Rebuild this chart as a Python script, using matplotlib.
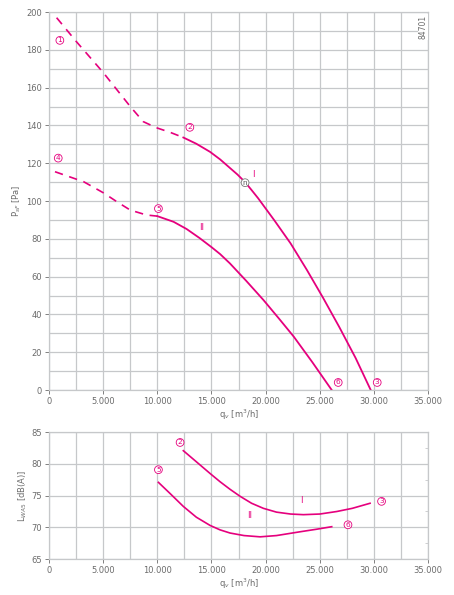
import matplotlib.pyplot as plt
import numpy as np

# data
# pressure curves, top chart: q_v [m3/h] -> p_sF [Pa]
q_I_dash = [700, 2500, 5000, 7500, 8700, 9900, 11200, 12400]
p_I_dash = [197, 184.5, 168, 150, 142, 138.8, 136.3, 133.6]
q_I = [12400, 13600, 14870, 15800, 16700, 17400, 18100, 18700, 19300, 20800, 22300,
       23800, 25300, 26800, 28300, 29700]
p_I = [133.6, 130.3, 126, 122, 117.5, 114, 110, 105.8, 101.5, 89.8, 77.6,
       63.6, 48.8, 33.3, 17, 0]

q_II_dash = [550, 3200, 5000, 6300, 7500, 9000, 10000]
p_II_dash = [115.5, 110.2, 104.4, 99.5, 95.2, 92.6, 92]
q_II = [10000, 11500, 12700, 13900, 15000, 15800, 16700, 18200, 19800, 21200, 22600,
        24300, 26100]
p_II = [92, 89, 85.2, 80.4, 75.6, 71.9, 67, 57.8, 47.6, 38, 28.2, 14.8, 0]

# sound power, bottom chart: q_v -> L_WA5 [dB(A)]
q_LI = [12400, 13500, 14870, 15790, 16715, 17640, 18700, 19790, 21000, 22300, 23480,
        25000, 26570, 28000, 29640]
L_I = [82.1, 80.5, 78.5, 77.2, 76.0, 74.9, 73.8, 73.0, 72.4, 72.1, 72.0,
       72.1, 72.5, 73.0, 73.8]
q_LII = [10100, 11200, 12400, 13600, 14870, 15790, 16715, 18000, 19490, 21000, 23180,
         24700, 26100]
L_II = [77.1, 75.3, 73.3, 71.6, 70.3, 69.6, 69.1, 68.7, 68.5, 68.7, 69.3, 69.7, 70.1]

# circled point labels
top_marks = {'1': (1000, 185), '2': (13000, 139), '3': (30300, 4),
             '4': (850, 122.7), '5': (10100, 96), '6': (26700, 4)}
bot_marks = {'2': (12100, 83.4), '5': (10100, 79.1), '3': (30700, 74.1), '6': (27600, 70.4)}

x_ticks = [0, 5000, 10000, 15000, 20000, 25000, 30000, 35000]
x_ticklabels = ['0', '5.000', '10.000', '15.000', '20.000', '25.000', '30.000', '35.000']

pink = '#e5007d'
grid_c = '#c6c8ca'
txt_c = '#6b6b6b'
plt.rcParams['font.family'] = 'DejaVu Sans'

fig = plt.figure(figsize=(4.54, 5.95), dpi=100)
ax1 = fig.add_axes([0.108, 0.3445, 0.835, 0.6353])
ax2 = fig.add_axes([0.108, 0.0605, 0.835, 0.2129])


def style(ax):
    ax.set_xlim(0, 35000)
    ax.set_xticks(x_ticks)
    ax.set_xticklabels(x_ticklabels)
    ax.set_xticks(np.arange(2500, 35000, 5000), minor=True)
    ax.grid(True, which='both', color=grid_c, lw=0.9)
    ax.set_axisbelow(True)
    for s in ax.spines.values():
        s.set_color(grid_c)
        s.set_linewidth(0.9)
    ax.tick_params(axis='both', which='major', labelsize=6, colors=txt_c,
                   length=3, width=0.6, pad=2)
    ax.tick_params(axis='x', which='minor', length=0)
    for lab in ax.get_xticklabels() + ax.get_yticklabels():
        lab.set_color(txt_c)


def circled(ax, t, x, y, ec=pink, c=pink):
    ax.text(x, y, t, fontsize=5.3, color=c, ha='center', va='center', zorder=5,
            bbox=dict(boxstyle='circle,pad=0.12', fc='white', ec=ec, lw=0.6))


# top chart
style(ax1)
ax1.set_ylim(0, 200)
ax1.set_yticks(np.arange(0, 201, 20))
ax1.set_yticks(np.arange(10, 200, 20), minor=True)
ax1.tick_params(axis='y', which='minor', length=0)
ax1.plot(q_I_dash, p_I_dash, color=pink, lw=1.2, dashes=(5, 4))
ax1.plot(q_I, p_I, color=pink, lw=1.3)
ax1.plot(q_II_dash, p_II_dash, color=pink, lw=1.2, dashes=(5, 4))
ax1.plot(q_II, p_II, color=pink, lw=1.3)
for t, (x, y) in top_marks.items():
    circled(ax1, t, x, y)
circled(ax1, 'n', 18100, 109.7, ec='#777777', c='#555555')
ax1.text(18900, 114, 'I', color=pink, fontsize=6, ha='center', va='center')
ax1.text(14100, 86, 'II', color=pink, fontsize=6, ha='center', va='center')
ax1.text(34550, 192, '84701', rotation=90, fontsize=5.5, color=txt_c, ha='center',
         va='center', bbox=dict(fc='white', ec='none', pad=0.5))
ax1.set_xlabel('q$_v$ [m$^3$/h]', fontsize=6, color=txt_c, labelpad=1)
ax1.set_ylabel('P$_{sF}$ [Pa]', fontsize=6, color=txt_c, labelpad=2)

# bottom chart
style(ax2)
ax2.set_ylim(65, 85)
ax2.set_yticks([65, 70, 75, 80, 85])
ax2.set_yticks(np.arange(67.5, 85, 5), minor=True)
ax2.tick_params(axis='y', which='minor', length=2, right=True, left=False,
                color=grid_c, direction='in')
ax2.grid(False, which='minor', axis='y')
ax2.plot(q_LI, L_I, color=pink, lw=1.2)
ax2.plot(q_LII, L_II, color=pink, lw=1.2)
for t, (x, y) in bot_marks.items():
    circled(ax2, t, x, y)
ax2.text(23300, 74.3, 'I', color=pink, fontsize=6, ha='center', va='center')
ax2.text(18500, 71.8, 'II', color=pink, fontsize=6, ha='center', va='center')
ax2.set_xlabel('q$_v$ [m$^3$/h]', fontsize=6, color=txt_c, labelpad=1)
ax2.set_ylabel('L$_{WA5}$ [dB(A)]', fontsize=6, color=txt_c, labelpad=2)

fig.savefig('out.png', dpi=100)
